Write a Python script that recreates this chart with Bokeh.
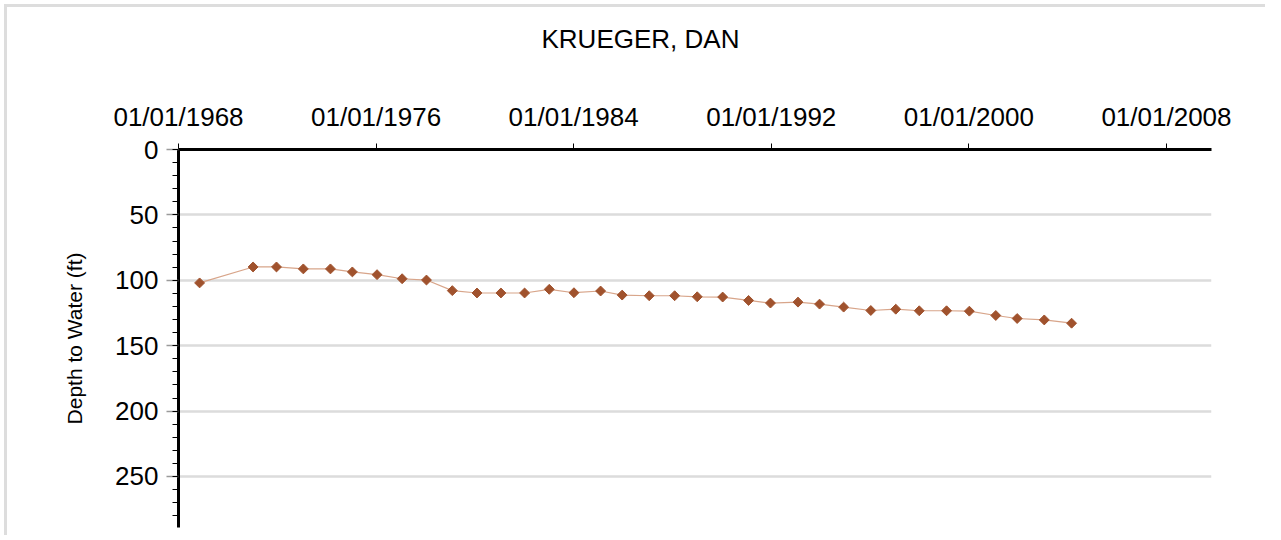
import datetime as dt
from bokeh.plotting import figure
from bokeh.models import Range1d, FixedTicker, SingleIntervalTicker, DatetimeTickFormatter, ColumnDataSource
from bokeh.embed import file_html
from bokeh.resources import INLINE

title_text = "KRUEGER, DAN"
y_label = "Depth to Water (ft)"

dates = [
    "1968-11-08", "1971-01-08", "1971-12-20", "1973-01-20", "1974-02-25",
    "1975-01-15", "1976-01-15", "1977-01-20", "1978-01-15", "1979-02-01",
    "1980-02-01", "1981-01-20", "1982-01-05", "1983-01-05", "1984-01-05",
    "1985-02-02", "1985-12-18", "1987-01-22", "1988-02-02", "1989-01-01",
    "1990-01-12", "1991-01-30", "1991-12-20", "1993-01-30", "1993-12-15",
    "1994-12-06", "1996-01-12", "1997-01-15", "1997-12-28", "1999-02-05",
    "2000-01-08", "2001-02-02", "2001-12-15", "2003-01-20", "2004-02-28",
]
depths = [
    102.0, 89.8, 89.8, 91.3, 91.3, 93.6, 95.7, 98.8, 99.8, 107.9,
    109.7, 109.7, 109.7, 106.9, 109.5, 108.2, 111.3, 111.8, 111.8, 112.6,
    112.8, 115.4, 117.4, 116.7, 118.2, 120.5, 123.1, 122.1, 123.3, 123.3,
    123.6, 126.9, 129.2, 130.3, 132.8,
]
x_tick_dates = ["1968-01-01", "1976-01-01", "1984-01-01", "1992-01-01", "2000-01-01", "2008-01-01"]
x_start, x_end = "1968-01-01", "2009-10-28"
y_max = 289

def to_dt(s):
    return dt.datetime.strptime(s, "%Y-%m-%d")

def to_ms(s):
    return (to_dt(s) - dt.datetime(1970, 1, 1)).total_seconds() * 1000.0

src = ColumnDataSource(dict(x=[to_dt(d) for d in dates], y=depths))

FONT = "Liberation Sans"

p = figure(width=1261, height=531, x_axis_type="datetime", x_axis_location="above",
           output_backend="svg", toolbar_location=None,
           x_range=Range1d(to_dt(x_start), to_dt(x_end)),
           y_range=Range1d(y_max, 0),
           min_border_left=171, min_border_right=57, min_border_top=142, min_border_bottom=11)
p.styles = {"border-top": "3px solid #dddddd", "border-left": "3px solid #dddddd",
            "margin-top": "4px", "margin-left": "4px"}
p.outline_line_color = None
p.background_fill_color = "white"
p.border_fill_color = "white"

p.title.text = title_text
p.title.text_font = FONT
p.title.text_font_size = "26px"
p.title.text_font_style = "normal"
p.title.text_color = "black"
p.title.align = "left"
p.title.offset = 363
p.title.standoff = 10

# x axis (top)
xa = p.xaxis[0]
xa.ticker = FixedTicker(ticks=[to_ms(d) for d in x_tick_dates])
fmt = "%m/%d/%Y"
xa.formatter = DatetimeTickFormatter(years=fmt, months=fmt, days=fmt, hours=fmt, minutes=fmt,
                                     seconds=fmt, milliseconds=fmt, microseconds=fmt, minsec=fmt,
                                     hourmin=fmt)
xa.major_label_text_font = FONT
xa.major_label_text_font_size = "26px"
xa.major_label_text_color = "black"
xa.major_tick_out = 6
xa.major_tick_in = 0
xa.major_tick_line_color = "black"
xa.major_tick_line_width = 1
xa.minor_tick_line_color = None
xa.axis_line_color = "black"
xa.axis_line_width = 3
xa.major_label_standoff = 12
# blank spacer label that pushes the title upwards
xa.axis_label = " "
xa.axis_label_text_font_size = "10px"
xa.axis_label_standoff = 26

# y axis (left)
ya = p.yaxis[0]
ya.ticker = SingleIntervalTicker(interval=50, num_minor_ticks=5)
ya.major_label_text_font = FONT
ya.major_label_text_font_size = "26px"
ya.major_label_text_color = "black"
ya.major_tick_out = 12
ya.major_tick_in = 0
ya.major_tick_line_color = "#9a9a9a"
ya.major_tick_line_width = 1.5
ya.minor_tick_out = 6
ya.minor_tick_in = 0
ya.minor_tick_line_color = "black"
ya.minor_tick_line_width = 1
ya.axis_line_color = "black"
ya.axis_line_width = 3
ya.major_label_standoff = 8
ya.axis_label = y_label
ya.axis_label_text_font = FONT
ya.axis_label_text_font_size = "21px"
ya.axis_label_text_font_style = "normal"
ya.axis_label_text_color = "black"
ya.axis_label_standoff = 26

p.xgrid.grid_line_color = None
p.ygrid.grid_line_color = "#dcdcdc"
p.ygrid.grid_line_width = 2.5

p.line("x", "y", source=src, line_color="#d8a58a", line_width=1.2)
p.scatter("x", "y", source=src, marker="square", size=7, angle=0.785398,
          fill_color="#a0522d", line_color="#a0522d", line_width=1)

open("out.html", "w").write(file_html(p, INLINE))
